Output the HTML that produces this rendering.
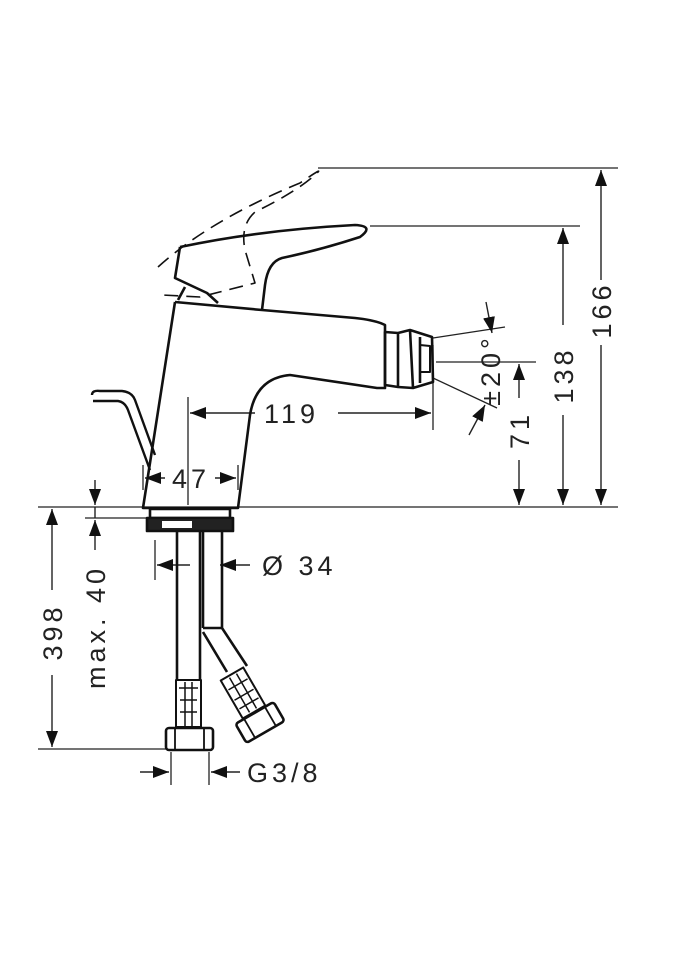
<!DOCTYPE html>
<html><head><meta charset="utf-8"><style>html,body{margin:0;padding:0;background:#fff}svg{display:block}text{font-family:"Liberation Sans",sans-serif;fill:#222;font-size:27px;letter-spacing:4px}</style></head>
<body>
<svg width="675" height="960" viewBox="0 0 675 960" xmlns="http://www.w3.org/2000/svg">
<defs>
<marker id="a" viewBox="0 0 16 12" refX="16" refY="6" markerWidth="16" markerHeight="12" markerUnits="userSpaceOnUse" orient="auto"><path d="M0,0 L16,6 L0,12z" fill="#111"/></marker>
</defs>
<g stroke="#222" fill="none" stroke-width="1.3">
<line x1="318" y1="168" x2="618" y2="168"/>
<line x1="370" y1="226" x2="580" y2="226"/>
<line x1="38" y1="507" x2="618" y2="507"/>
<line x1="436" y1="362" x2="536" y2="362"/>
<line x1="85" y1="518" x2="150" y2="518"/>
<line x1="38" y1="749" x2="166" y2="749"/>
<line x1="188" y1="397" x2="188" y2="505"/>
<line x1="433" y1="345" x2="433" y2="430"/>
<line x1="143" y1="465" x2="143" y2="490"/>
<line x1="238" y1="465" x2="238" y2="490"/>
<line x1="155" y1="540" x2="155" y2="580"/>
<line x1="222" y1="540" x2="222" y2="580"/>
<line x1="171" y1="752" x2="171" y2="785"/>
<line x1="209" y1="752" x2="209" y2="785"/>
<line x1="433" y1="338" x2="505" y2="327"/>
<line x1="433" y1="378" x2="497" y2="408"/>
</g>
<g stroke="#222" stroke-width="1.4" fill="none">
<line x1="601" y1="280" x2="601" y2="170" marker-end="url(#a)"/>
<line x1="601" y1="345" x2="601" y2="505" marker-end="url(#a)"/>
<line x1="563" y1="325" x2="563" y2="228" marker-end="url(#a)"/>
<line x1="563" y1="415" x2="563" y2="505" marker-end="url(#a)"/>
<line x1="519" y1="398" x2="519" y2="364" marker-end="url(#a)"/>
<line x1="519" y1="460" x2="519" y2="505" marker-end="url(#a)"/>
<line x1="486" y1="302" x2="492" y2="333" marker-end="url(#a)"/>
<line x1="469" y1="435" x2="485" y2="405" marker-end="url(#a)"/>
<line x1="255" y1="413" x2="190" y2="413" marker-end="url(#a)"/>
<line x1="338" y1="413" x2="431" y2="413" marker-end="url(#a)"/>
<line x1="165" y1="478" x2="145" y2="478" marker-end="url(#a)"/>
<line x1="215" y1="478" x2="236" y2="478" marker-end="url(#a)"/>
<line x1="52" y1="590" x2="52" y2="509" marker-end="url(#a)"/>
<line x1="52" y1="675" x2="52" y2="747" marker-end="url(#a)"/>
<line x1="95" y1="480" x2="95" y2="505" marker-end="url(#a)"/>
<line x1="95" y1="550" x2="95" y2="520" marker-end="url(#a)"/>
<line x1="95" y1="507" x2="95" y2="518"/>
<line x1="190" y1="565" x2="157" y2="565" marker-end="url(#a)"/>
<line x1="250" y1="565" x2="220" y2="565" marker-end="url(#a)"/>
<line x1="140" y1="772" x2="169" y2="772" marker-end="url(#a)"/>
<line x1="240" y1="772" x2="211" y2="772" marker-end="url(#a)"/>
</g>
<g stroke="#111" stroke-width="2.6" fill="none" stroke-linejoin="round">
<path d="M158,267 Q210,220 300,183 Q322,168 318,172 Q300,190 255,212 Q240,225 245,250 L255,283 L200,297 L162,295" stroke-dasharray="14,8" stroke-width="1.6"/>
<path d="M180,247 Q260,230 355,225 Q375,226 360,237 Q320,250 282,258 Q268,262 265,285 L262,310"/>
<path d="M180,247 L175,278 L207,293 L218,303"/>
<path d="M185,287 L178,300"/>
<path d="M175,302 L143,508 L238,508 L250,415 Q256,378 290,375 L377,388 L385,388 L385,325 Q375,320 355,318 L262,310 L175,302"/>
<path d="M385,332 L385,385 L398,387 L398,333 Z M398,333 L410,330 L432,337 L433,382 L413,388 L398,387 M410,330 L413,388 M420,337 L420,383"/>
<path d="M420,345 L430,346 L430,372 L420,372" stroke-width="2"/>
<path d="M92,395 Q92,390 100,391 L122,391 Q132,392 135,400 L155,455" stroke-width="2.4"/>
<path d="M93,401 L118,401 Q125,402 128,410 L150,470" stroke-width="2.4"/>
<path d="M150,509 L230,509 L230,518 L150,518 Z"/>
<path d="M147,518 L233,518 L233,531 L147,531 Z" fill="#222"/>
<rect x="162" y="521" width="30" height="7" fill="#fff" stroke="none"/>
<path d="M177,532 L177,680 M200,532 L200,680"/>
<path d="M176,680 L201,680 L201,727 L176,727 Z" stroke-width="2"/>
<path d="M179,688 L198,688 M180,700 L197,700 M180,712 L197,712 M185,682 L185,726 M192,682 L192,726" stroke-width="1.5"/>
<rect x="166" y="728" width="47" height="22" rx="3"/>
<path d="M175,728 L175,750 M204,728 L204,750" stroke-width="1.8"/>
<path d="M203,532 L203,628 M222,532 L222,628 M203,628 L222,628 M203,632 L227,672 M222,628 L247,666"/>
<g transform="translate(243,693) rotate(-30)">
<rect x="-13" y="-22" width="26" height="44" stroke-width="2"/>
<path d="M-11,-10 L11,-10 M-11,2 L11,2 M-11,12 L11,12 M-4,-20 L-4,20 M4,-20 L4,20" stroke-width="1.5"/>
<rect x="-22" y="23" width="44" height="22" rx="3"/>
<path d="M-12,23 L-12,45 M12,23 L12,45" stroke-width="1.8"/>
</g>
</g>
<text x="264" y="423">119</text>
<text x="172" y="488">47</text>
<text x="262" y="575" letter-spacing="8">Ø 34</text>
<text x="247" y="782">G3/8</text>
<text transform="translate(611,310) rotate(-90)" text-anchor="middle">166</text>
<text transform="translate(573,375) rotate(-90)" text-anchor="middle">138</text>
<text transform="translate(529,430) rotate(-90)" text-anchor="middle">71</text>
<text transform="translate(500,370) rotate(-90)" text-anchor="middle" font-size="20" letter-spacing="1">±20°</text>
<text transform="translate(62,632) rotate(-90)" text-anchor="middle">398</text>
<text transform="translate(105,627) rotate(-90)" text-anchor="middle" letter-spacing="3">max. 40</text>
</svg>
</body></html>
